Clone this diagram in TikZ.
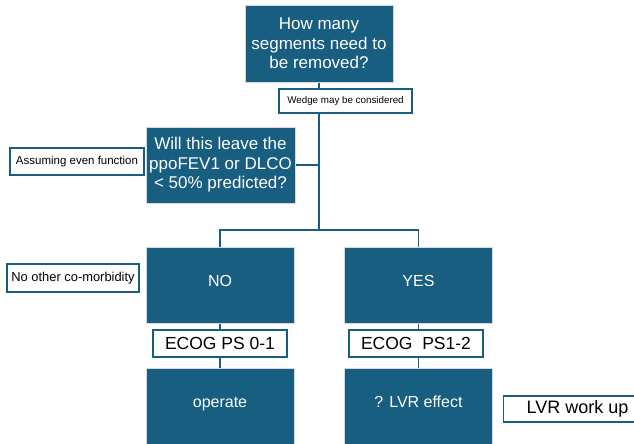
\documentclass[tikz,border=0pt]{standalone}
\usepackage{fontspec}
\setmainfont{Liberation Sans}
\usetikzlibrary{backgrounds}

\definecolor{boxblue}{RGB}{24,94,128}

\tikzset{
	qbox/.style={draw=gray!30, line width=0.9pt, fill=boxblue, text=white, align=center,
		inner sep=0pt, minimum width=148pt, minimum height=76pt, font=\fontsize{17}{19.5}\selectfont},
	abox/.style={qbox, text height=12pt, text depth=10pt, font=\fontsize{16}{19}\selectfont},
	tag/.style={draw=boxblue, line width=1.2pt, fill=white, text=black, inner sep=0pt},
	link/.style={draw=boxblue, line width=1.6pt}
}

\begin{document}
\begin{tikzpicture}[x=1pt,y=-1pt]
		\useasboundingbox (0,0) rectangle (634,444);
		\clip (0,0) rectangle (634,444);

		\node[qbox, minimum height=77pt] (segments) at (319,43.5) {How many\\segments need to\\be removed?};
		\node[qbox, minimum width=149pt] (leave) at (220.5,165) {Will this leave the\\ppoFEV1 or DLCO\\< 50\% predicted?};
		\node[abox] (no) at (220,285) {NO};
		\node[abox] (yes) at (418.5,285) {YES};
		\node[abox] (operate) at (220,406) {operate};
		\node[abox] (lvr) at (418.5,406) {? LVR effect};

		\coordinate (split) at (319,230);

		\node[tag, minimum width=133pt, minimum height=24pt, font=\fontsize{9.8}{11}\selectfont] (wedge) at (345.5,101) {Wedge may be considered};
		\node[tag, minimum width=134pt, minimum height=27pt, font=\fontsize{11.5}{13}\selectfont] (even) at (77,161.5) {Assuming even function};
		\node[tag, minimum width=132pt, minimum height=28pt, font=\fontsize{12.9}{14}\selectfont] (comorb) at (73,278) {No other co-morbidity};
		\node[tag, minimum width=134pt, minimum height=27pt, font=\fontsize{17.5}{20}\selectfont] (ecogA) at (220,343.5) {ECOG PS 0-1};
		\node[tag, minimum width=134pt, minimum height=27pt, font=\fontsize{17.5}{20}\selectfont] (ecogB) at (416,343.5) {ECOG\ \ PS1-2};
		\node[tag, anchor=west, inner xsep=23pt, minimum height=26pt, font=\fontsize{18}{20}\selectfont] (workup) at (503,409) {LVR work up};

		\begin{pgfonlayer}{background}
			\draw[link] (segments.south) -- (split);
			\draw[link] (leave.east) -- (leave.east -| split);
			\draw[link] (split) -| (no.north);
			\draw[link] (split) -| (yes.north);
			\draw[link] (no) -- (operate);
			\draw[link] (yes) -- (lvr);
		\end{pgfonlayer}
	\end{tikzpicture}
\end{document}
